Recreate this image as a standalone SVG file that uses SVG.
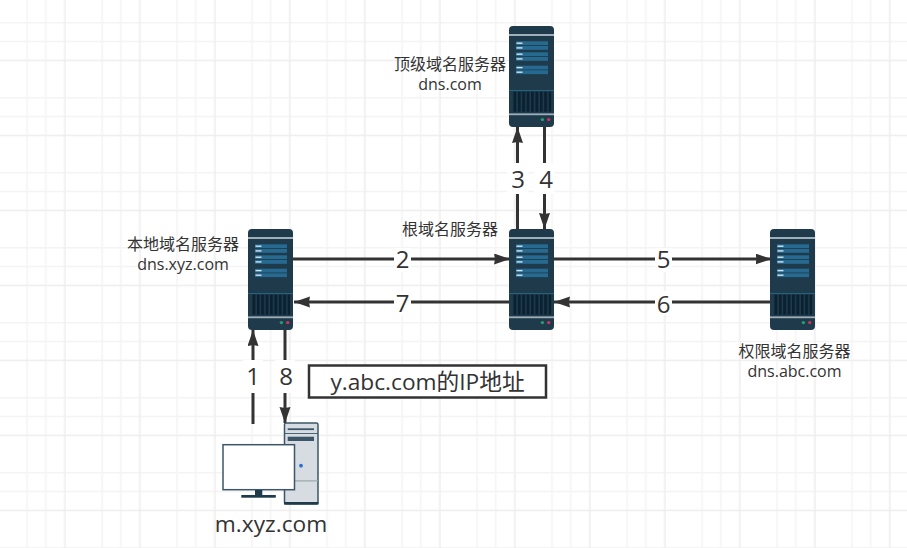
<svg xmlns="http://www.w3.org/2000/svg" xmlns:xlink="http://www.w3.org/1999/xlink" width="907" height="548" viewBox="0 0 907 548">
  <style>
    text { font-family: "Open Sans", "Noto Sans CJK SC", sans-serif; fill: #333; text-anchor: middle; }
    .cap { font-size: 16px; }
    .num { font-size: 24px; }
    .big { font-size: 22.700px; }
    .wire { fill: none; stroke: #333; stroke-width: 3; }
    .panel { fill: #266a92; }
    .tick { fill: #cfe3ee; }
    .halo { fill: #fff; }
  </style>
  <defs>
    <pattern id="grid" x="8.3" y="4" width="75" height="75" patternUnits="userSpaceOnUse">
      <path d="M18.75 0V75M37.5 0V75M56.25 0V75M0 18.75H75M0 37.5H75M0 56.25H75" fill="none" stroke="#f4f4f4" stroke-width="1.500"/>
    </pattern>
    <pattern id="gridMajor" x="64.7" y="60.3" width="75" height="75" patternUnits="userSpaceOnUse">
      <path d="M0 0V75M0 0H75" fill="none" stroke="#ebebeb" stroke-width="1.500"/>
    </pattern>
    <pattern id="vent" width="4.4" height="20" patternUnits="userSpaceOnUse">
      <rect width="4.4" height="20" fill="#0b2130"/>
      <rect x="3" width="1.4" height="20" fill="#1f3d50"/>
    </pattern>
    <marker id="head" markerUnits="userSpaceOnUse" markerWidth="17" markerHeight="12" refX="16" refY="5.500" orient="auto">
      <path d="M0 0L16 5.500L0 11L1 5.500Z" fill="#333"/>
    </marker>
    <g id="server">
      <rect x="0" y="0" width="45" height="101" rx="4" fill="#1f3a4b"/>
      <rect x="0" y="8" width="45" height="2" fill="#9fb0ba"/>
      <rect class="panel" x="7" y="15.3" width="32" height="3.8"/>
      <rect class="panel" x="7" y="20" width="32" height="3.8"/>
      <rect class="panel" x="7" y="26.3" width="32" height="3.8"/>
      <rect class="panel" x="7" y="31" width="32" height="3.8"/>
      <rect class="panel" x="7" y="39.7" width="32" height="3.8"/>
      <rect class="panel" x="7" y="44.3" width="32" height="3.8"/>
      <rect class="tick" x="7.5" y="16.5" width="6" height="1.4"/>
      <rect class="tick" x="7.5" y="21.2" width="6" height="1.4"/>
      <rect class="tick" x="7.5" y="27.5" width="6" height="1.4"/>
      <rect class="tick" x="7.5" y="32.2" width="6" height="1.4"/>
      <rect class="tick" x="7.5" y="40.9" width="6" height="1.4"/>
      <rect class="tick" x="7.5" y="45.5" width="6" height="1.4"/>
      <rect x="0" y="64" width="45" height="0.8" fill="#27708f"/>
      <rect x="3.7" y="65.7" width="38.6" height="20" fill="url(#vent)"/>
      <rect x="0" y="87.4" width="45" height="1.8" fill="#9fb0ba"/>
      <circle cx="33.4" cy="93.6" r="1.7" fill="#2a9a74"/>
      <circle cx="39.7" cy="93.6" r="1.7" fill="#c8375a"/>
    </g>
  </defs>

  <rect width="907" height="548" fill="#fff"/>
  <rect width="907" height="548" fill="url(#grid)"/>
  <rect width="907" height="548" fill="url(#gridMajor)"/>

  <g id="connectors">
    <path class="wire" d="M253 424V330" marker-end="url(#head)"/>
    <path class="wire" d="M285 329V423" marker-end="url(#head)"/>
    <path class="wire" d="M293 259H510" marker-end="url(#head)"/>
    <path class="wire" d="M510 302H294" marker-end="url(#head)"/>
    <path class="wire" d="M517.500 229V127" marker-end="url(#head)"/>
    <path class="wire" d="M544.500 127V229" marker-end="url(#head)"/>
    <path class="wire" d="M554 259H771.500" marker-end="url(#head)"/>
    <path class="wire" d="M770 302H554" marker-end="url(#head)"/>
    <rect class="halo" x="394" y="248" width="17" height="24"/>
    <rect class="halo" x="394" y="291" width="17" height="24"/>
    <rect class="halo" x="507" y="163" width="21" height="31"/>
    <rect class="halo" x="534" y="163" width="21" height="31"/>
    <rect class="halo" x="655" y="248" width="17" height="24"/>
    <rect class="halo" x="655" y="291" width="17" height="24"/>
    <rect class="halo" x="243" y="360" width="20" height="33"/>
    <rect class="halo" x="275" y="360" width="20" height="33"/>
    <text class="num" x="402.500" y="268">2</text>
    <text class="num" x="402.500" y="312">7</text>
    <text class="num" x="518" y="188">3</text>
    <text class="num" x="546" y="188">4</text>
    <text class="num" x="663.500" y="268">5</text>
    <text class="num" x="663.500" y="313">6</text>
    <text class="num" x="253" y="385">1</text>
    <text class="num" x="286" y="385">8</text>
  </g>

  <g id="tld-server">
    <use href="#server" x="509" y="26"/>
    <text class="cap" x="450" y="69.500">顶级域名服务器</text>
    <text class="cap" x="450" y="89.500">dns.com</text>
  </g>
  <g id="root-server">
    <use href="#server" x="509" y="229"/>
    <text class="cap" x="450" y="234.500">根域名服务器</text>
  </g>
  <g id="local-server">
    <use href="#server" x="248" y="229"/>
    <text class="cap" x="183" y="250">本地域名服务器</text>
    <text class="cap" x="183" y="270">dns.xyz.com</text>
  </g>
  <g id="authority-server">
    <use href="#server" x="770" y="229"/>
    <text class="cap" x="794.500" y="357">权限域名服务器</text>
    <text class="cap" x="794.500" y="377">dns.abc.com</text>
  </g>
  <g id="client">
    <rect x="284.500" y="423" width="33.500" height="81" rx="1.500" fill="#d6dce1" stroke="#3d5568" stroke-width="1.500"/>
    <rect x="284" y="502" width="34.500" height="2.500" fill="#1f3a4b"/>
    <rect x="287.700" y="428.300" width="26.300" height="1.800" fill="#3d5568"/>
    <rect x="284.500" y="433" width="33.500" height="0.900" fill="#3d5568"/>
    <rect x="287.700" y="436.700" width="26.300" height="4.300" fill="#3d5568"/>
    <circle cx="301" cy="465.700" r="1.900" fill="#2a6fd6"/>
    <rect x="284.500" y="480.300" width="33.500" height="1.200" fill="#9aa7a8"/>
    <rect x="223" y="444.700" width="71.500" height="45" fill="#fff" stroke="#3d5568" stroke-width="1.500"/>
    <rect x="255" y="490" width="7.300" height="5.500" fill="#1f3a4b"/>
    <rect x="241.300" y="495" width="34.500" height="2.700" fill="#1f3a4b"/>
    <text class="big" x="271" y="532">m.xyz.com</text>
  </g>
  <g id="answer-note">
    <rect x="309" y="365.500" width="237" height="32" fill="#fff" stroke="#333" stroke-width="2.500"/>
    <text class="big" x="427.500" y="390">y.abc.com的IP地址</text>
  </g>
</svg>
